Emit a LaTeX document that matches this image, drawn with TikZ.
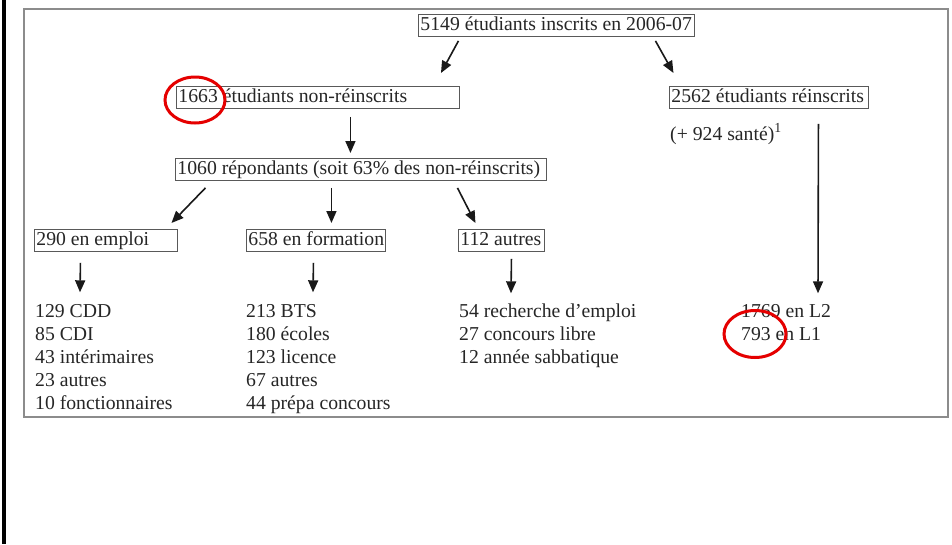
\documentclass[tikz,border=0pt]{standalone}
\usepackage{fontspec}
\setmainfont{Liberation Serif}
\usetikzlibrary{arrows.meta,calc}
\newcommand\lbx[2]{\makebox[#1][l]{#2}}
\begin{document}
\begin{tikzpicture}[x=1pt,y=-1pt,
  txt/.style={font=\fontsize{19.7}{23}\selectfont, text=black!85, inner sep=0pt,
              text height=14.5pt, text depth=4.5pt},
  lbox/.style={txt, draw=black!65, line width=0.9pt, inner xsep=2pt, inner ysep=1.5pt,
               anchor=north west},
  item/.style={txt, anchor=base west},
  arr/.style={draw=black!90, line width=1.6pt, -{Triangle[length=12pt,width=10pt]}},
  ring/.style={draw=red!90!black, line width=3pt}
]
\useasboundingbox (0,0) rectangle (952,544);
\fill[white] (0,0) rectangle (952,544);

% page edge and figure frame
\fill[black] (2,0) rectangle (6,544);
\draw[black!45, line width=2pt] (24,9) rectangle (948,417);

% boxed counts
\node[lbox] (top)    at (418,14)  {\lbx{272pt}{5149 étudiants inscrits en 2006-07}};
\node[lbox] (nonre)  at (176,86)  {\lbx{279pt}{1663 étudiants non-réinscrits}};
\node[lbox] (re)     at (669,86)  {\lbx{195pt}{2562 étudiants réinscrits}};
\node[item] (sante)  at (670,140) {(+ 924 santé)\textsuperscript{1}};
\node[lbox] (rep)    at (175,158) {\lbx{367pt}{1060 répondants (soit 63\% des non-réinscrits)}};
\node[lbox] (emploi) at (34,229)  {\lbx{139pt}{290 en emploi}};
\node[lbox] (form)   at (246,229) {\lbx{135pt}{658 en formation}};
\node[lbox] (autres) at (458,229) {\lbx{82pt}{112 autres}};

% detail lists
\foreach \t [count=\i] in {129 CDD, 85 CDI, 43 intérimaires, 23 autres, 10 fonctionnaires}
  \node[item] (e\i) at (35,{317+23*(\i-1)}) {\t};
\foreach \t [count=\i] in {213 BTS, 180 écoles, 123 licence, 67 autres, 44 prépa concours}
  \node[item] (f\i) at (246,{317+23*(\i-1)}) {\t};
\foreach \t [count=\i] in {54 recherche d’emploi, 27 concours libre, 12 année sabbatique}
  \node[item] (a\i) at (459,{317+23*(\i-1)}) {\t};
\foreach \t [count=\i] in {1769 en L2, 793 en L1}
  \node[item] (l\i) at (741,{317+23*(\i-1)}) {\t};

% connectors
\draw[arr] ($(top.south)+(-98,4)$) -- ($(nonre.north)+(123,-13)$);
\draw[arr] ($(top.south)+(99,4)$) -- ($(re.north)+(-95.5,-13)$);
\draw[arr] ($(nonre.south)+(32.5,8)$) -- ($(rep.north)+(-10.5,-5)$);
\draw[arr] ($(rep.south)+(-155.5,7)$) -- ($(emploi.north)+(65.5,-6)$);
\draw[arr] ($(rep.south)+(-29.5,7)$) -- ($(form.north)+(15.5,-6)$);
\draw[arr] ($(rep.south)+(96.5,7)$) -- ($(autres.north)+(-26,-6)$);
\draw[arr] ($(emploi.south)+(-25.5,11)$) -- ($(e1.north west)+(45,-10)$);
\draw[arr] ($(form.south)+(-2.5,11)$) -- ($(f1.north west)+(67,-10)$);
\draw[arr] ($(autres.south)+(10,7)$) -- ($(a1.north west)+(52,-9)$);
\draw[arr] ($(re.south)+(49.5,15)$) -- ($(l1.north west)+(77,-9)$);

% highlight rings
\draw[ring] (195,100) ellipse [x radius=30pt, y radius=23pt];
\draw[ring] (755,334) ellipse [x radius=31pt, y radius=23.5pt];
\end{tikzpicture}
\end{document}
